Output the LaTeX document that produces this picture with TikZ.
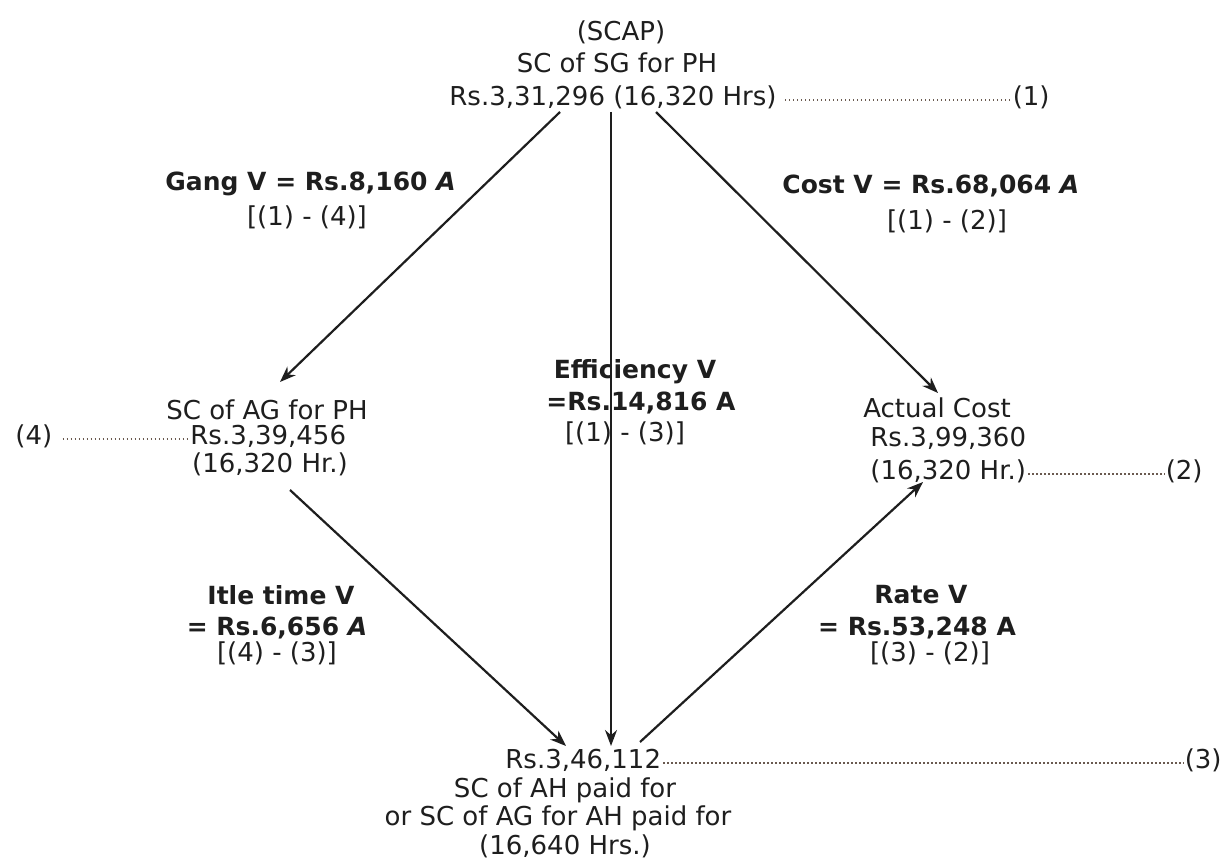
\documentclass[tikz,border=0pt]{standalone}
\usepackage{fontspec}
\setmainfont{DejaVu Sans}
\usetikzlibrary{arrows.meta}
\definecolor{ink}{HTML}{1E1E1E}
\definecolor{dotc}{HTML}{6A5A50}
\tikzset{
  txt/.style={inner sep=0pt, text=ink, font=\fontsize{13}{15}\selectfont},
  btxt/.style={inner sep=0pt, text=ink, font=\fontsize{12.5}{15}\selectfont\bfseries},
  arr/.style={draw=ink, line width=1.1pt, -{Stealth[length=8pt,width=6pt]}},
  leader/.style={draw=dotc, line width=0.7pt, dash pattern=on 0.7pt off 1.3pt}
}
\begin{document}
\begin{tikzpicture}[x=0.5pt,y=-0.5pt]
\useasboundingbox (0,0) rectangle (1229,860);
% top block
\node[txt] (scap) at (621,32) {(SCAP)};
\node[txt] (scsg) at (617,63) {SC of SG for PH};
\node[txt, anchor=west] (rs1) at (449,97) {Rs.3,31,296 (16,320 Hrs)};
\node[txt, anchor=east] (one) at (1050,97) {(1)};
\draw[leader] (rs1.east) ++(8,3) coordinate (l1a) -- (one.west |- l1a);
% left middle
\node[txt] (scag) at (267,410) {SC of AG for PH};
\node[txt, anchor=west] (rs4) at (190,436) {Rs.3,39,456};
\node[txt, anchor=west] (four) at (15,436) {(4)};
\node[txt] (hr4) at (270,464) {(16,320 Hr.)};
\draw[leader] (four.east) ++(10,3) coordinate (l4a) -- (rs4.west |- l4a);
% right middle
\node[txt] (ac) at (937,408) {Actual Cost};
\node[txt, anchor=west] (rs2) at (870,438) {Rs.3,99,360};
\node[txt, anchor=west] (hr2) at (870,471) {(16,320 Hr.)};
\node[txt, anchor=east] (two) at (1203,471) {(2)};
\draw[leader] (hr2.east) ++(2,3) coordinate (l2a) -- (two.west |- l2a);
% bottom
\node[txt, anchor=west] (rs3) at (505,760) {Rs.3,46,112};
\node[txt, anchor=east] (three) at (1222,760) {(3)};
\node[txt] (ahp) at (565,790) {SC of AH paid for};
\node[txt] (agah) at (558,818) {or SC of AG for AH paid for};
\node[txt] (hr3) at (565,846) {(16,640 Hrs.)};
\draw[leader] (rs3.east) ++(2,3) coordinate (l3a) -- (three.west |- l3a);
% variance labels
\node[btxt, anchor=west] (gang) at (165,184) {Gang V = Rs.8,160 \textit{A}};
\node[txt] (gangf) at (307,217) {[(1) - (4)]};
\node[btxt, anchor=west] (cost) at (782,186) {Cost V = Rs.68,064 \textit{A}};
\node[txt] (costf) at (947,221) {[(1) - (2)]};
\node[btxt] (eff) at (635,372) {Efficiency V};
\node[btxt] (effv) at (641,403) {=Rs.14,816 A};
\node[txt] (efff) at (625,433) {[(1) - (3)]};
\node[btxt] (idle) at (281,595) {Itle time V};
\node[btxt] (idlev) at (277,628) {= Rs.6,656 \textit{A}};
\node[txt] (idlef) at (277,653) {[(4) - (3)]};
\node[btxt] (rate) at (921,595) {Rate V};
\node[btxt] (ratev) at (917,628) {= Rs.53,248 A};
\node[txt] (ratef) at (930,653) {[(3) - (2)]};
% connector end points
\coordinate (a1s) at (560,112);
\coordinate (a1e) at (280,382);
\coordinate (a2s) at (611,112);
\coordinate (a2e) at (611,746);
\coordinate (a3s) at (656,112);
\coordinate (a3e) at (938,393);
\coordinate (a4s) at (290,490);
\coordinate (a4e) at (566,746);
\coordinate (a5s) at (640,742);
\coordinate (a5e) at (923,482);
\draw[arr] (a1s) -- (a1e);
\draw[arr] (a2s) -- (a2e);
\draw[arr] (a3s) -- (a3e);
\draw[arr] (a4s) -- (a4e);
\draw[arr] (a5s) -- (a5e);
\end{tikzpicture}
\end{document}
